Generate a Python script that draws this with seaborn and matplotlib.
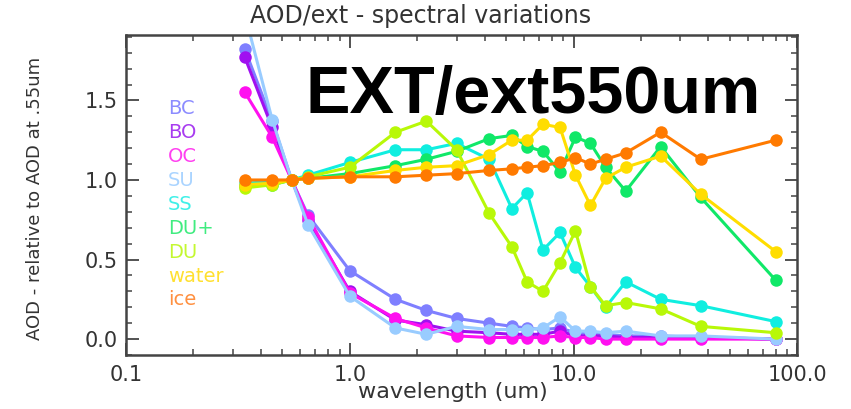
import pandas as pd
import seaborn as sns
import matplotlib.pyplot as plt
from matplotlib.ticker import FixedLocator, FuncFormatter, MultipleLocator

# wavelengths (um) shared by all species
wavelength = [0.34, 0.45, 0.55, 0.65, 1.0, 1.6, 2.2, 3.0, 4.2, 5.3,
              6.2, 7.3, 8.7, 10.2, 11.9, 13.9, 17.1, 24.5, 37.0, 80.0]

species = ['BC', 'BO', 'OC', 'SU', 'SS', 'DU+', 'DU', 'water', 'ice']

bc = [1.82, 1.37, 1.0, 0.78, 0.43, 0.25, 0.18, 0.13, 0.10, 0.08,
      0.07, 0.06, 0.07, 0.04, 0.03, 0.03, 0.02, 0.02, 0.01, 0.0]
bo = [1.77, 1.33, 1.0, 0.75, 0.30, 0.12, 0.09, 0.05, 0.04, 0.03,
      0.03, 0.03, 0.05, 0.02, 0.02, 0.02, 0.01, 0.01, 0.01, 0.0]
oc = [1.55, 1.27, 1.0, 0.77, 0.29, 0.13, 0.07, 0.02, 0.01, 0.01,
      0.01, 0.01, 0.02, 0.01, 0.01, 0.0, 0.0, 0.0, 0.0, 0.0]
su = [2.04, 1.38, 1.0, 0.72, 0.27, 0.07, 0.03, 0.08, 0.06, 0.06,
      0.06, 0.07, 0.14, 0.05, 0.05, 0.04, 0.05, 0.02, 0.02, 0.0]
ss = [0.98, 0.99, 1.0, 1.03, 1.11, 1.19, 1.19, 1.23, 1.13, 0.82,
      0.92, 0.56, 0.67, 0.45, 0.33, 0.20, 0.36, 0.25, 0.21, 0.11]
du_plus = [0.96, 0.97, 1.0, 1.01, 1.04, 1.09, 1.13, 1.18, 1.26, 1.28,
           1.21, 1.18, 1.05, 1.27, 1.23, 1.08, 0.93, 1.21, 0.89, 0.37]
du = [0.95, 0.97, 1.0, 1.02, 1.08, 1.30, 1.37, 1.19, 0.79, 0.58,
      0.36, 0.30, 0.48, 0.68, 0.33, 0.21, 0.23, 0.19, 0.08, 0.04]
water = [0.97, 0.98, 1.0, 1.01, 1.02, 1.06, 1.08, 1.09, 1.16, 1.25,
         1.25, 1.35, 1.33, 1.03, 0.84, 1.01, 1.08, 1.15, 0.91, 0.55]
ice = [1.0, 1.0, 1.0, 1.01, 1.02, 1.02, 1.03, 1.04, 1.06, 1.07,
       1.08, 1.09, 1.11, 1.14, 1.10, 1.13, 1.17, 1.30, 1.13, 1.25]

colors = ['#7f7fff', '#a010f0', '#ff10f0', '#99ccff', '#10eee0',
          '#10e868', '#b8f808', '#ffdd00', '#ff7a00']
label_colors = ['#8c8cff', '#a83cf0', '#ff40f0', '#aad4ff', '#40f0e8',
                '#40ec80', '#c4f830', '#ffe030', '#ff9040']

values = [bc, bo, oc, su, ss, du_plus, du, water, ice]
df = pd.DataFrame({
    'wavelength': wavelength * len(species),
    'ratio': [v for series in values for v in series],
    'species': [s for s in species for _ in wavelength],
})

sns.set_style('ticks')
plt.rcParams['font.family'] = ['DejaVu Sans']

fig = plt.figure(figsize=(8.51, 4.09), dpi=100)
ax = fig.add_axes([0.148, 0.132, 0.789, 0.782])
ax.set_xscale('log')

sns.lineplot(data=df, x='wavelength', y='ratio', hue='species', hue_order=species,
             palette=colors, marker='o', markersize=9, markeredgewidth=0,
             linewidth=2.2, sort=False, legend=False, ax=ax)

ax.set_xlim(0.1, 100)
ax.set_ylim(-0.1, 1.91)
ax.xaxis.set_major_locator(FixedLocator([0.1, 1, 10, 100]))
ax.xaxis.set_major_formatter(FuncFormatter(lambda v, p: f'{v:.1f}'))
ax.yaxis.set_major_locator(FixedLocator([0.0, 0.5, 1.0, 1.5]))
ax.yaxis.set_major_formatter(FuncFormatter(lambda v, p: f'{v:.1f}'))
ax.yaxis.set_minor_locator(MultipleLocator(0.1))
ax.tick_params(which='both', direction='in', top=True, right=True,
               color='#444444', labelsize=15, labelcolor='#333333')
ax.tick_params(which='major', length=9, width=1.3)
ax.tick_params(which='minor', length=4.5, width=1.1)
ax.tick_params(axis='x', pad=7)
ax.tick_params(axis='y', pad=6)
for sp in ax.spines.values():
    sp.set_color('#444444')
    sp.set_linewidth(1.8)

ax.set_xlabel('wavelength (um)', fontsize=16, color='#333333', va='top')
ax.xaxis.set_label_coords(0.487, -0.085)
ax.set_ylabel('AOD - relative to AOD at .55um', fontsize=13, color='#333333')
ax.yaxis.set_label_coords(-0.122, 0.49)
fig.text(421 / 851, 1 - 16 / 409, 'AOD/ext - spectral variations', fontsize=17,
         color='#333333', ha='center', va='center')

# coloured species names instead of a legend box
for i, (name, c) in enumerate(zip(species, label_colors)):
    ax.text(0.063, 0.772 - i * 0.075, name, transform=ax.transAxes,
            color=c, fontsize=14, va='center', ha='left')

fig.text(305 / 851, 1 - 113 / 409, 'EXT/ext550um', fontsize=48, fontweight='bold',
         family='Liberation Sans', color='black', ha='left', va='baseline')

fig.savefig('out.png', dpi=100)
